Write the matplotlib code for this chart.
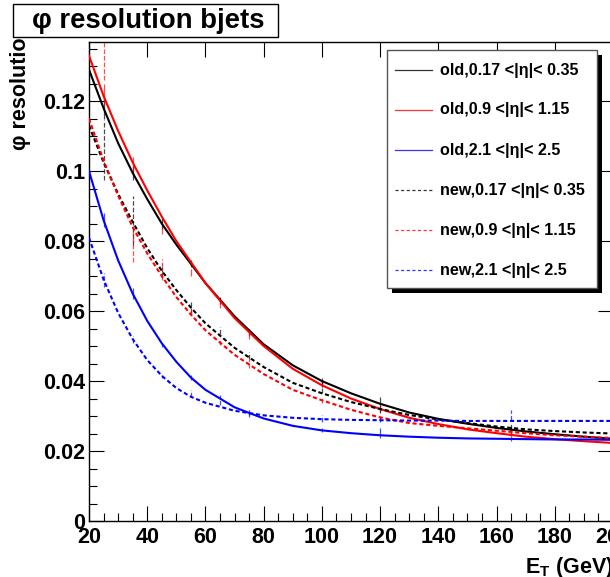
import matplotlib
matplotlib.use('Agg')
import matplotlib.pyplot as plt
from matplotlib.patches import Rectangle
from matplotlib.lines import Line2D
from matplotlib.ticker import MultipleLocator, FormatStrFormatter

plt.rcParams['font.family'] = ['Liberation Sans', 'DejaVu Sans']
plt.rcParams['mathtext.fontset'] = 'custom'
plt.rcParams['mathtext.rm'] = 'Liberation Sans'
plt.rcParams['mathtext.bf'] = 'Liberation Sans:bold'

et = [20, 25, 30, 35, 40, 45, 50, 55, 60, 70, 80, 90, 100, 110, 120,
      130, 140, 150, 160, 170, 180, 190, 200]

# fitted resolution curves
old_017 = [0.129, 0.118, 0.108, 0.0995, 0.092, 0.085, 0.079, 0.0735, 0.068,
           0.0585, 0.0505, 0.0445, 0.0400, 0.0365, 0.0335, 0.031, 0.0292,
           0.0278, 0.0266, 0.0256, 0.0248, 0.0241, 0.0235]
old_09 = [0.133, 0.1215, 0.1115, 0.1025, 0.0945, 0.087, 0.080, 0.074, 0.068,
          0.058, 0.050, 0.0435, 0.0388, 0.0350, 0.0320, 0.0295, 0.0277,
          0.0262, 0.0251, 0.0241, 0.0234, 0.0228, 0.0223]
old_21 = [0.100, 0.086, 0.0745, 0.065, 0.0572, 0.0508, 0.0455, 0.041, 0.0375,
          0.0325, 0.0293, 0.0272, 0.0259, 0.0251, 0.0245, 0.0241, 0.0238,
          0.0236, 0.0235, 0.0234, 0.0233, 0.0233, 0.0232]
new_017 = [0.113, 0.1025, 0.0935, 0.0855, 0.078, 0.0715, 0.066, 0.061, 0.0565,
           0.0495, 0.044, 0.0395, 0.0365, 0.034, 0.032, 0.0303, 0.029, 0.028,
           0.027, 0.0262, 0.0257, 0.0253, 0.025]
new_09 = [0.115, 0.103, 0.093, 0.084, 0.0765, 0.070, 0.064, 0.059, 0.0545,
          0.0475, 0.042, 0.0375, 0.0345, 0.0318, 0.0296, 0.028, 0.0272,
          0.0265, 0.0258, 0.0251, 0.0245, 0.0241, 0.0237]
new_21 = [0.081, 0.069, 0.0595, 0.052, 0.046, 0.0415, 0.038, 0.0355, 0.0338,
          0.0315, 0.0302, 0.0295, 0.0291, 0.0289, 0.0288, 0.0287, 0.0287,
          0.0286, 0.0286, 0.0286, 0.0286, 0.0286, 0.0286]

# histogram points (bin centres, values, errors)
bins_x = [25, 35, 45, 55, 65, 75, 100, 120, 165]
old_017_pts = [0.118, 0.0995, 0.085, 0.0735, 0.063, 0.054, 0.0400, 0.0338, 0.026]
old_017_err = [0.003, 0.002, 0.0015, 0.001, 0.001, 0.001, 0.0008, 0.0016, 0.001]
old_09_pts = [0.122, 0.102, 0.083, 0.071, 0.062, 0.053, 0.0388, 0.032, 0.0248]
old_09_err = [0.003, 0.002, 0.001, 0.001, 0.001, 0.001, 0.0008, 0.0008, 0.0008]
old_21_pts = [0.086, 0.065, 0.0503, 0.041, 0.0355, 0.031, 0.0259, 0.0252, 0.0235]
old_21_err = [0.002, 0.0015, 0.0006, 0.0006, 0.0006, 0.0006, 0.0006, 0.0014, 0.0006]
new_017_pts = [0.106, 0.086, 0.0715, 0.061, 0.0545, 0.0473, 0.0382, 0.032, 0.027]
new_017_err = [0.0086, 0.007, 0.002, 0.0015, 0.001, 0.001, 0.0017, 0.001, 0.0008]
new_09_pts = [0.14, 0.079, 0.072, 0.06, 0.0513, 0.045, 0.0345, 0.0296, 0.0255]
new_09_err = [0.014, 0.005, 0.003, 0.001, 0.001, 0.0012, 0.0008, 0.0008, 0.0008]
new_21_pts = [0.069, 0.052, 0.0413, 0.0364, 0.0341, 0.0307, 0.0293, 0.0288, 0.0303]
new_21_err = [0.002, 0.001, 0.0005, 0.001, 0.001, 0.001, 0.001, 0.0005, 0.0014]

labels = ['old,0.17 <|\u03b7|< 0.35', 'old,0.9 <|\u03b7|< 1.15', 'old,2.1 <|\u03b7|< 2.5',
          'new,0.17 <|\u03b7|< 0.35', 'new,0.9 <|\u03b7|< 1.15', 'new,2.1 <|\u03b7|< 2.5']
colors = ['black', 'red', 'blue', 'black', 'red', 'blue']
curves = [old_017, old_09, old_21, new_017, new_09, new_21]
points = [old_017_pts, old_09_pts, old_21_pts, new_017_pts, new_09_pts, new_21_pts]
errors = [old_017_err, old_09_err, old_21_err, new_017_err, new_09_err, new_21_err]
dash = (0, (2.0, 1.3))
styles = ['-', '-', '-', dash, dash, dash]

W, H = 610, 577
fig = plt.figure(figsize=(W / 100, H / 100), dpi=100)


def fx(x):
    return x / W


def fy(y):
    return 1 - y / H


# axes frame in pixel terms: left 89, right 613, top 42, bottom 521
ax = fig.add_axes([fx(89), fy(521), (613 - 89) / W, (521 - 42) / H])
ax.set_xlim(20, 200)
ax.set_ylim(0, 0.1369)

for c, s, yv, p, e in zip(colors, styles, curves, points, errors):
    ax.plot(et, yv, color=c, linestyle=s, lw=1.5, zorder=3)
    eb = ax.errorbar(bins_x, p, yerr=e, fmt='none', ecolor=c, elinewidth=0.9,
                     capsize=0, alpha=0.7, zorder=2)
    if s != '-':
        eb[2][0].set_linestyle('--')

ax.xaxis.set_major_locator(MultipleLocator(20))
ax.xaxis.set_minor_locator(MultipleLocator(5))
ax.yaxis.set_major_locator(MultipleLocator(0.02))
ax.yaxis.set_minor_locator(MultipleLocator(0.005))
ax.yaxis.set_major_formatter(FormatStrFormatter('%g'))
ax.tick_params(which='both', direction='in', top=True, right=True)
ax.tick_params(which='major', length=11, width=0.8, labelsize=15.5)
ax.tick_params(which='minor', length=5.5, width=0.8)
ax.tick_params(which='minor', top=False, right=False)
ax.tick_params(axis='x', which='major', pad=4)
ax.tick_params(axis='y', which='major', pad=3)
for lab in ax.get_xticklabels() + ax.get_yticklabels():
    lab.set_fontweight('bold')
for sp in ax.spines.values():
    sp.set_linewidth(1.0)

# axis titles (the y title runs up under the title box, as in ROOT)
fig.text(fx(21), fy(24), '\u03c6 resolution', rotation=90, ha='center', va='top',
         fontsize=15.5, fontweight='bold', zorder=1)
fig.text(fx(613), fy(568), r'$\mathbf{E}_{\mathbf{T}}$ (GeV)', ha='right', va='center',
         fontsize=15.5, fontweight='bold', zorder=1)

# title box
fig.patches.append(Rectangle((fx(13), fy(37)), (278 - 13) / W, (37 - 4) / H,
                             transform=fig.transFigure, facecolor='white',
                             edgecolor='black', lw=1.0, zorder=10))
fig.text(fx(148), fy(21), '\u03c6 resolution bjets', ha='center', va='center',
         fontsize=19.8, fontweight='bold', zorder=11)

# legend box with shadow
lx0, ly0, lx1, ly1 = 387, 50, 597, 288
fig.patches.append(Rectangle((fx(lx0 + 5), fy(ly1 + 5)), (lx1 - lx0) / W, (ly1 - ly0) / H,
                             transform=fig.transFigure, facecolor='black',
                             edgecolor='black', lw=0, zorder=10))
fig.patches.append(Rectangle((fx(lx0), fy(ly1)), (lx1 - lx0) / W, (ly1 - ly0) / H,
                             transform=fig.transFigure, facecolor='white',
                             edgecolor='#555555', lw=1.0, zorder=11))
for i, (lab, c, s) in enumerate(zip(labels, colors, styles)):
    yrow = 70 + i * 40
    fig.lines.append(Line2D([fx(395), fx(432)], [fy(yrow), fy(yrow)], color=c,
                            linestyle=s if s == '-' else (0, (2.5, 2.0)), lw=0.9,
                            alpha=0.8, transform=fig.transFigure, zorder=12))
    fig.text(fx(440), fy(yrow), lab, ha='left', va='center', fontsize=11.6,
             fontweight='bold', zorder=12)

fig.savefig('out.png', dpi=100)
